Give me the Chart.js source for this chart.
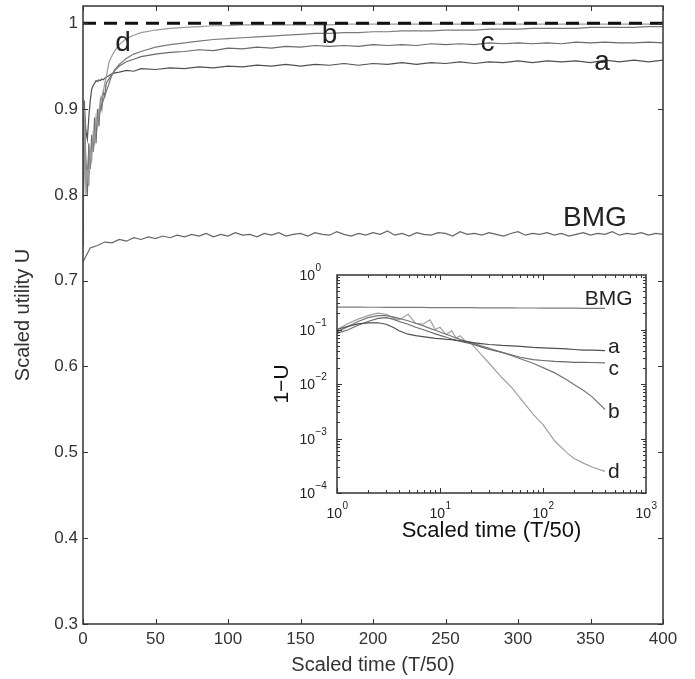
<!DOCTYPE html>
<html>
<head>
<meta charset="utf-8">
<script src="https://cdn.jsdelivr.net/npm/chart.js@4.4.1/dist/chart.umd.min.js"></script>
<style>
  body { margin: 0; background: #fff; }
  #wrap { position: relative; width: 695px; height: 679px; }
  #main { position: absolute; left: 0; top: 0; }
  #inset { position: absolute; left: 265px; top: 255px; }
</style>
</head>
<body>
<div id="wrap">
  <canvas id="main" width="695" height="679"></canvas>
  <canvas id="inset" width="400" height="290"></canvas>
</div>
<script>
// main plot: scaled utility U against scaled time
const tMain = [0,1,2,3,4,5,6,7,8,9,10,11,12,13,14,15,16,18,20,22,25,30,35,40,50,60,70,80,90,100,
  110,120,130,140,150,160,170,180,190,200,210,220,230,240,250,260,270,280,290,300,
  310,320,330,340,350,360,370,380,390,400];
const uA = [0.76,0.90,0.875,0.865,0.89,0.91,0.923,0.927,0.930,0.933,0.932,0.934,0.933,0.935,0.934,
  0.936,0.937,0.939,0.941,0.942,0.943,0.945,0.944,0.947,0.946,0.948,0.947,0.949,0.948,0.950,
  0.949,0.951,0.950,0.952,0.950,0.952,0.951,0.953,0.951,0.953,0.952,0.954,0.952,0.954,0.953,
  0.955,0.953,0.955,0.954,0.956,0.954,0.956,0.955,0.956,0.954,0.957,0.955,0.957,0.955,0.957];
const uB = [0.78,0.89,0.84,0.82,0.85,0.84,0.86,0.855,0.87,0.88,0.885,0.89,0.90,0.905,0.91,
  0.915,0.92,0.93,0.94,0.946,0.952,0.959,0.964,0.967,0.972,0.975,0.977,0.979,0.981,0.982,
  0.983,0.984,0.985,0.986,0.987,0.988,0.988,0.989,0.989,0.990,0.990,0.991,0.991,0.991,0.992,
  0.992,0.992,0.993,0.993,0.993,0.994,0.994,0.994,0.994,0.995,0.995,0.995,0.995,0.996,0.996];
const uC = [0.74,0.91,0.82,0.80,0.86,0.83,0.87,0.85,0.89,0.86,0.90,0.88,0.91,0.90,0.92,
  0.915,0.93,0.935,0.940,0.945,0.950,0.955,0.958,0.961,0.964,0.966,0.967,0.969,0.968,0.971,
  0.970,0.972,0.971,0.973,0.972,0.974,0.973,0.974,0.973,0.975,0.974,0.975,0.974,0.976,0.975,
  0.976,0.975,0.977,0.976,0.977,0.976,0.977,0.976,0.978,0.977,0.978,0.977,0.977,0.978,0.977];
const uD = [0.75,0.90,0.80,0.83,0.81,0.85,0.84,0.87,0.86,0.89,0.88,0.90,0.905,0.915,0.92,
  0.93,0.937,0.955,0.962,0.968,0.975,0.982,0.986,0.989,0.992,0.994,0.995,0.996,0.997,0.997,
  0.998,0.998,0.998,0.998,0.998,0.998,0.998,0.999,0.999,0.999,0.999,0.999,0.999,0.999,0.999,
  0.999,0.999,0.999,0.999,0.999,0.999,0.999,0.999,0.999,0.999,0.999,0.999,0.999,0.999,0.999];
const tBmg = [0,5,10,15,20,25,30,35,40,45,50,55,60,65,70,75,80,85,90,95,100,105,110,115,120,
  125,130,135,140,145,150,155,160,165,170,175,180,185,190,195,200,205,210,215,220,225,230,
  235,240,245,250,255,260,265,270,275,280,285,290,295,300,305,310,315,320,325,330,335,340,
  345,350,355,360,365,370,375,380,385,390,395,400];
const uBmg = [0.722,0.738,0.741,0.745,0.744,0.748,0.746,0.750,0.748,0.751,
  0.749,0.752,0.750,0.753,0.751,0.754,0.752,0.755,0.751,0.754,
  0.752,0.756,0.753,0.754,0.751,0.755,0.753,0.756,0.752,0.754,
  0.755,0.752,0.756,0.754,0.753,0.757,0.754,0.752,0.755,0.753,
  0.756,0.754,0.758,0.753,0.755,0.752,0.756,0.754,0.753,0.756,
  0.755,0.752,0.757,0.754,0.755,0.753,0.756,0.754,0.752,0.755,
  0.757,0.753,0.755,0.754,0.756,0.753,0.755,0.752,0.754,0.756,
  0.753,0.755,0.754,0.757,0.753,0.755,0.754,0.756,0.753,0.755,
  0.754];
const tRef = [0, 400];
const uRef = [1, 1];
const xTicks = [0, 50, 100, 150, 200, 250, 300, 350, 400];
const yTicks = [0.3, 0.4, 0.5, 0.6, 0.7, 0.8, 0.9, 1];
const mainLabels = [
  { text: "d", t: 27.6, u: 0.967 },
  { text: "b", t: 170, u: 0.977 },
  { text: "c", t: 279, u: 0.967 },
  { text: "a", t: 358, u: 0.9455 },
  { text: "BMG", t: 353, u: 0.764 }
];

// inset: 1-U against scaled time, log-log
const tIn = [1,1.3,1.6,2,2.5,3,3.5,4,4.9,5.8,6.8,8,9,10,11.5,13,14.3,15.7,17.5,20,
  25,30,40,50,60,80,100,130,170,200,250,300,400];
const aIn = [0.1,0.115,0.127,0.132,0.133,0.125,0.11,0.095,0.082,0.077,0.074,0.071,0.069,0.068,0.066,
  0.065,0.063,0.062,0.06,0.058,0.055,0.053,0.051,0.05,0.049,0.047,0.046,0.045,0.044,0.043,
  0.042,0.042,0.041];
const bIn = [0.09,0.115,0.14,0.165,0.18,0.18,0.17,0.16,0.145,0.13,0.118,0.105,0.097,0.09,0.082,
  0.075,0.07,0.066,0.062,0.058,0.05,0.045,0.038,0.033,0.029,0.024,0.02,0.016,0.012,0.0098,
  0.0075,0.0058,0.0034];
const cIn = [0.085,0.1,0.12,0.14,0.16,0.165,0.155,0.14,0.125,0.11,0.1,0.09,0.083,0.078,0.072,
  0.067,0.064,0.061,0.058,0.055,0.048,0.043,0.038,0.034,0.031,0.028,0.027,0.026,0.0255,0.025,
  0.025,0.0248,0.0245];
const dIn = [0.10,0.13,0.155,0.18,0.2,0.19,0.165,0.15,0.19,0.13,0.125,0.15,0.10,0.11,0.08,
  0.095,0.07,0.077,0.062,0.056,0.035,0.024,0.013,0.0085,0.0055,0.0028,0.0018,0.0009,0.00055,0.00043,
  0.00035,0.0003,0.00025];
const bmgIn = [0.258,0.257,0.257,0.256,0.256,0.255,0.255,0.255,0.254,0.254,0.254,0.253,0.253,0.253,0.252,
  0.252,0.252,0.252,0.251,0.251,0.25,0.25,0.249,0.249,0.248,0.248,0.247,0.247,0.246,0.246,
  0.245,0.245,0.244];
const inXTicks = [1, 10, 100, 1000];
const inYTicks = [0.0001, 0.001, 0.01, 0.1, 1];
const insetLabels = [
  { text: "BMG", t: 435, v: 0.282 },
  { text: "a", t: 487, v: 0.037 },
  { text: "c", t: 487, v: 0.0146 },
  { text: "b", t: 487, v: 0.00238 },
  { text: "d", t: 487, v: 0.000188 }
];

const FONT = "'Liberation Sans', Arial, Helvetica, sans-serif";

function pts(xs, ys) {
  const n = Math.min(xs.length, ys.length);
  const out = [];
  for (let i = 0; i < n; i++) out.push({ x: xs[i], y: ys[i] });
  return out;
}

function line(data, color, width) {
  return { data: data, borderColor: color, backgroundColor: color, borderWidth: width,
    pointRadius: 0, showLine: true, fill: false, tension: 0, order: 1 };
}

// keep the plot box where it is, whatever the end labels ask for
function noPad(s) {
  s.paddingTop = 0; s.paddingBottom = 0; s.paddingLeft = 0; s.paddingRight = 0;
}

const mainFrame = {
  id: "mainFrame",
  afterDatasetsDraw(chart) {
    const { ctx, chartArea: a, scales: { x, y } } = chart;
    ctx.save();
    ctx.strokeStyle = "#333";
    ctx.lineWidth = 1.5;
    ctx.strokeRect(a.left, a.top, a.right - a.left, a.bottom - a.top);
    ctx.lineWidth = 1;
    ctx.beginPath();
    xTicks.forEach(v => {
      const px = Math.round(x.getPixelForValue(v)) + 0.5;
      ctx.moveTo(px, a.bottom); ctx.lineTo(px, a.bottom - 5);
      ctx.moveTo(px, a.top); ctx.lineTo(px, a.top + 5);
    });
    yTicks.forEach(v => {
      const py = Math.round(y.getPixelForValue(v)) + 0.5;
      ctx.moveTo(a.left, py); ctx.lineTo(a.left + 5, py);
      ctx.moveTo(a.right, py); ctx.lineTo(a.right - 5, py);
    });
    ctx.stroke();
    ctx.fillStyle = "#222";
    ctx.font = "28px " + FONT;
    ctx.textAlign = "center";
    ctx.textBaseline = "alphabetic";
    mainLabels.forEach(l => ctx.fillText(l.text, x.getPixelForValue(l.t), y.getPixelForValue(l.u)));
    ctx.restore();
  }
};

new Chart(document.getElementById("main"), {
  type: "scatter",
  data: {
    datasets: [
      Object.assign(line(pts(tRef, uRef), "#111", 3), { borderDash: [13, 8], order: 0 }),
      line(pts(tMain, uD), "#9a9a9a", 1.2),
      line(pts(tMain, uB), "#7a7a7a", 1.2),
      line(pts(tMain, uC), "#6a6a6a", 1.2),
      line(pts(tMain, uA), "#505050", 1.2),
      line(pts(tBmg, uBmg), "#666", 1.2)
    ]
  },
  options: {
    responsive: false,
    animation: false,
    events: [],
    layout: { padding: { left: 0, right: 32, top: 6, bottom: 0 } },
    plugins: { legend: { display: false }, tooltip: { enabled: false } },
    scales: {
      x: {
        type: "linear", min: 0, max: 400,
        afterBuildTicks: s => { s.ticks = xTicks.map(v => ({ value: v })); },
        afterFit: s => { s.height = 55; noPad(s); },
        grid: { display: false, drawTicks: false },
        border: { display: false },
        ticks: { font: { family: FONT, size: 17 }, color: "#333", padding: 5, autoSkip: false,
          maxRotation: 0, callback: v => String(v) },
        title: { display: true, text: "Scaled time (T/50)", font: { family: FONT, size: 20 },
          color: "#333", padding: { top: 0, bottom: 2 } }
      },
      y: {
        type: "linear", min: 0.3, max: 1.02,
        afterBuildTicks: s => { s.ticks = yTicks.map(v => ({ value: v })); },
        afterFit: s => { s.width = 83; noPad(s); },
        grid: { display: false, drawTicks: false },
        border: { display: false },
        ticks: { font: { family: FONT, size: 17 }, color: "#333", padding: 5, autoSkip: false,
          callback: v => String(Math.round(v * 10) / 10) },
        title: { display: true, text: "Scaled utility U", font: { family: FONT, size: 20 },
          color: "#333", padding: { top: 11, bottom: 0 } }
      }
    }
  },
  plugins: [mainFrame]
});

function drawPow(ctx, exp, x, y, align) {
  // "10" with a raised exponent
  ctx.font = "14px " + FONT;
  const wb = ctx.measureText("10").width;
  ctx.font = "10px " + FONT;
  const e = String(exp).replace("-", "\u2212");
  const we = ctx.measureText(e).width;
  let x0 = x;
  if (align === "center") x0 = x - (wb + we) / 2;
  if (align === "right") x0 = x - wb;
  ctx.textAlign = "left";
  ctx.font = "14px " + FONT;
  ctx.fillText("10", x0, y);
  ctx.font = "10px " + FONT;
  ctx.fillText(e, x0 + wb + 0.5, y - 9);
}

const insetDraw = {
  id: "insetDraw",
  afterDatasetsDraw(chart) {
    const { ctx, chartArea: a, scales: { x, y } } = chart;
    ctx.save();
    ctx.strokeStyle = "#333";
    ctx.lineWidth = 1.5;
    ctx.strokeRect(a.left, a.top, a.right - a.left, a.bottom - a.top);
    ctx.lineWidth = 1;
    ctx.beginPath();
    for (let k = 0; k < 3; k++) {
      for (let m = 1; m < 10; m++) {
        const v = m * Math.pow(10, k);
        const px = Math.round(x.getPixelForValue(v)) + 0.5;
        const len = m === 1 ? 5 : 3;
        ctx.moveTo(px, a.bottom); ctx.lineTo(px, a.bottom - len);
        ctx.moveTo(px, a.top); ctx.lineTo(px, a.top + len);
      }
    }
    for (let k = -4; k < 0; k++) {
      for (let m = 1; m < 10; m++) {
        const v = m * Math.pow(10, k);
        const py = Math.round(y.getPixelForValue(v)) + 0.5;
        const len = m === 1 ? 5 : 3;
        ctx.moveTo(a.left, py); ctx.lineTo(a.left + len, py);
        ctx.moveTo(a.right, py); ctx.lineTo(a.right - len, py);
      }
    }
    ctx.stroke();
    ctx.fillStyle = "#222";
    ctx.textBaseline = "alphabetic";
    inXTicks.forEach(v => drawPow(ctx, Math.round(Math.log10(v)), x.getPixelForValue(v), a.bottom + 25, "center"));
    inYTicks.forEach(v => drawPow(ctx, Math.round(Math.log10(v)), a.left - 22, y.getPixelForValue(v) + 5, "right"));
    ctx.font = "21px " + FONT;
    ctx.textAlign = "center";
    insetLabels.forEach(l => ctx.fillText(l.text, x.getPixelForValue(l.t), y.getPixelForValue(l.v)));
    ctx.restore();
  }
};

new Chart(document.getElementById("inset"), {
  type: "scatter",
  data: {
    datasets: [
      line(pts(tIn, bmgIn), "#7a7a7a", 1.2),
      line(pts(tIn, aIn), "#505050", 1.2),
      line(pts(tIn, cIn), "#6a6a6a", 1.2),
      line(pts(tIn, bIn), "#777", 1.2),
      line(pts(tIn, dIn), "#a0a0a0", 1.2)
    ]
  },
  options: {
    responsive: false,
    animation: false,
    events: [],
    layout: { padding: { left: 0, right: 19, top: 20, bottom: 0 } },
    plugins: { legend: { display: false }, tooltip: { enabled: false } },
    scales: {
      x: {
        type: "logarithmic", min: 1, max: 1000,
        afterBuildTicks: s => { s.ticks = inXTicks.map(v => ({ value: v })); },
        afterFit: s => { s.height = 52; noPad(s); },
        grid: { display: false, drawTicks: false },
        border: { display: false },
        ticks: { display: false },
        title: { display: true, text: "Scaled time (T/50)", font: { family: FONT, size: 22 },
          color: "#111", padding: { top: 0, bottom: 1 } }
      },
      y: {
        type: "logarithmic", min: 0.0001, max: 1,
        afterBuildTicks: s => { s.ticks = inYTicks.map(v => ({ value: v })); },
        afterFit: s => { s.width = 72; noPad(s); },
        grid: { display: false, drawTicks: false },
        border: { display: false },
        ticks: { display: false },
        title: { display: true, text: "1\u2212U", font: { family: FONT, size: 21 },
          color: "#111", padding: { top: 5, bottom: 0 } }
      }
    }
  },
  plugins: [insetDraw]
});
</script>
</body>
</html>
